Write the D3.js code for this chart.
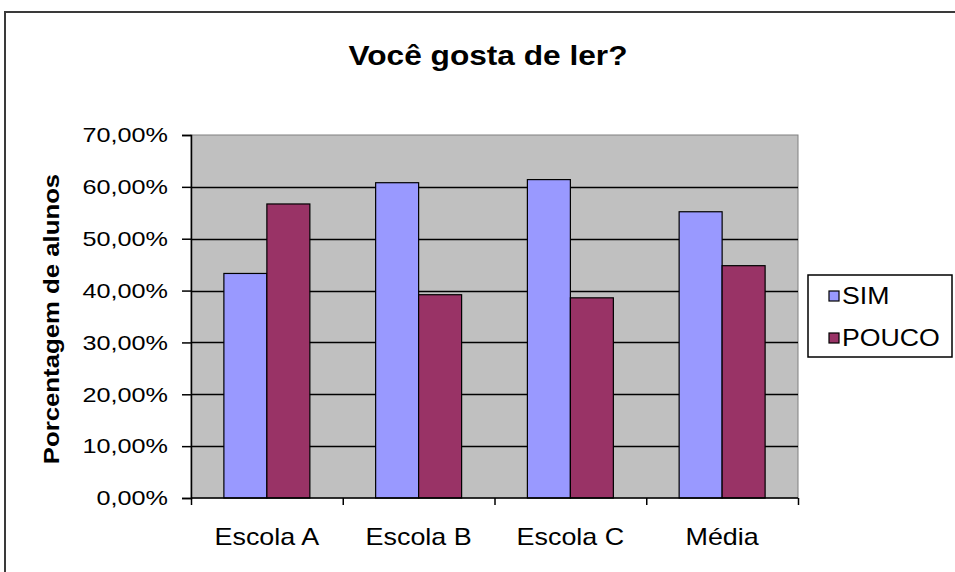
<!DOCTYPE html>
<html>
<head>
<meta charset="utf-8">
<script src="https://cdn.jsdelivr.net/npm/d3@7"></script>
<style>
body{margin:0;background:#fff;}
text{font-family:"Liberation Sans",Arial,sans-serif;fill:#000;}
</style>
</head>
<body>
<div id="svgContainer"></div>
<script>
// dados do grafico
var categories = ["Escola A","Escola B","Escola C","Média"];
var seriesNames = ["SIM","POUCO"];
var simValues = [0.433,0.608,0.614,0.552];
var poucoValues = [0.567,0.392,0.386,0.448];
var yTicks = [0,0.1,0.2,0.3,0.4,0.5,0.6,0.7];
var colors = {SIM:"#9999ff",POUCO:"#993366"};

var svgWidth = 955, svgHeight = 572;
var svg = d3.select("#svgContainer").append("svg")
    .attr("width",svgWidth)
    .attr("height",svgHeight);

var plot = {left:191,right:798,top:135,bottom:498};

// virgula decimal
var pt = d3.formatLocale({decimal:",",thousands:".",grouping:[3],currency:["R$",""]});
var fmt = pt.format(".2%");

// stretch text horizontally like the excel render
function stretch(sel,f){
    sel.each(function(){
        var w = this.getComputedTextLength();
        d3.select(this).attr("textLength",w*f).attr("lengthAdjust","spacingAndGlyphs");
    });
}

// moldura externa
svg.append("rect")
    .attr("x",5).attr("y",12)
    .attr("width",1000).attr("height",600)
    .attr("fill","none")
    .attr("stroke","#3a3a3a")
    .attr("stroke-width",2);

var y = d3.scaleLinear().domain([0,0.7]).range([plot.bottom,plot.top]);
var x0 = d3.scaleBand().domain(categories).range([plot.left,plot.right]);
var x1 = d3.scaleBand().domain(seriesNames).range([0,x0.bandwidth()]).paddingOuter(0.765);
var xEdge = d3.scaleLinear().domain([0,categories.length]).range([plot.left,plot.right]);

// fundo
svg.append("rect")
    .attr("x",plot.left).attr("y",plot.top)
    .attr("width",plot.right-plot.left).attr("height",plot.bottom-plot.top)
    .attr("fill","#c0c0c0")
    .attr("stroke","#808080")
    .attr("stroke-width",1);

// linhas de grade
svg.append("g")
    .selectAll("line")
    .data(yTicks.slice(1,-1))
    .enter().append("line")
    .attr("x1",plot.left).attr("x2",plot.right)
    .attr("y1",d => Math.round(y(d))+0.5)
    .attr("y2",d => Math.round(y(d))+0.5)
    .attr("stroke","#000")
    .attr("stroke-width",1.5);

// barras
var rows = categories.map(function(c,i){
    return {cat:c,values:[{s:"SIM",v:simValues[i]},{s:"POUCO",v:poucoValues[i]}]};
});
svg.append("g")
    .selectAll("g")
    .data(rows)
    .enter().append("g")
    .attr("transform",d => "translate("+x0(d.cat)+",0)")
    .selectAll("rect")
    .data(d => d.values)
    .enter().append("rect")
    .attr("x",d => x1(d.s))
    .attr("y",d => y(d.v))
    .attr("width",x1.bandwidth())
    .attr("height",d => plot.bottom - y(d.v))
    .attr("fill",d => colors[d.s])
    .attr("stroke","#000")
    .attr("stroke-width",1.2);

// eixo y
var yAxis = svg.append("g")
    .attr("transform","translate("+plot.left+",0)")
    .call(d3.axisLeft(y).tickValues(yTicks).tickSize(9).tickPadding(14).tickFormat(fmt));
yAxis.selectAll("path,line").attr("stroke","#000").attr("stroke-width",1.5);
yAxis.selectAll("text")
    .style("font-size","21px")
    .style("font-family","'Liberation Sans',Arial,sans-serif")
    .attr("fill","#000")
    .call(stretch,1.2);

// eixo x
var xAxis = svg.append("g")
    .attr("transform","translate(0,"+plot.bottom+")")
    .call(d3.axisBottom(xEdge).tickValues(d3.range(categories.length+1)).tickSize(7).tickFormat(""));
xAxis.selectAll("path,line").attr("stroke","#000").attr("stroke-width",1.5);
xAxis.select("path").attr("d","M"+plot.left+",0H"+plot.right);

svg.append("g")
    .selectAll("text")
    .data(categories)
    .enter().append("text")
    .attr("x",d => x0(d)+x0.bandwidth()/2)
    .attr("y",545)
    .attr("text-anchor","middle")
    .attr("font-size",24)
    .text(d => d)
    .call(stretch,1.12);

// titulo
svg.append("text")
    .attr("x",488)
    .attr("y",65)
    .attr("text-anchor","middle")
    .attr("font-size",28)
    .attr("font-weight","bold")
    .text("Você gosta de ler?")
    .call(stretch,1.13);

svg.append("text")
    .attr("transform","translate(59,319) rotate(-90)")
    .attr("text-anchor","middle")
    .attr("font-size",22)
    .attr("font-weight","bold")
    .text("Porcentagem de alunos")
    .call(stretch,1.17);

// legenda
var legend = svg.append("g").attr("transform","translate(808,275)");
legend.append("rect")
    .attr("width",144).attr("height",82)
    .attr("fill","#fff")
    .attr("stroke","#000")
    .attr("stroke-width",1.5);
var item = legend.selectAll("g.item")
    .data(seriesNames)
    .enter().append("g")
    .attr("class","item")
    .attr("transform",(d,i) => "translate(0,"+(i*42)+")");
item.append("rect")
    .attr("x",21).attr("y",16)
    .attr("width",10).attr("height",10)
    .attr("fill",d => colors[d])
    .attr("stroke","#000")
    .attr("stroke-width",1.2);
item.append("text")
    .attr("x",34).attr("y",29)
    .attr("font-size",23)
    .text(d => d)
    .call(stretch,1.16);
</script>
</body>
</html>
